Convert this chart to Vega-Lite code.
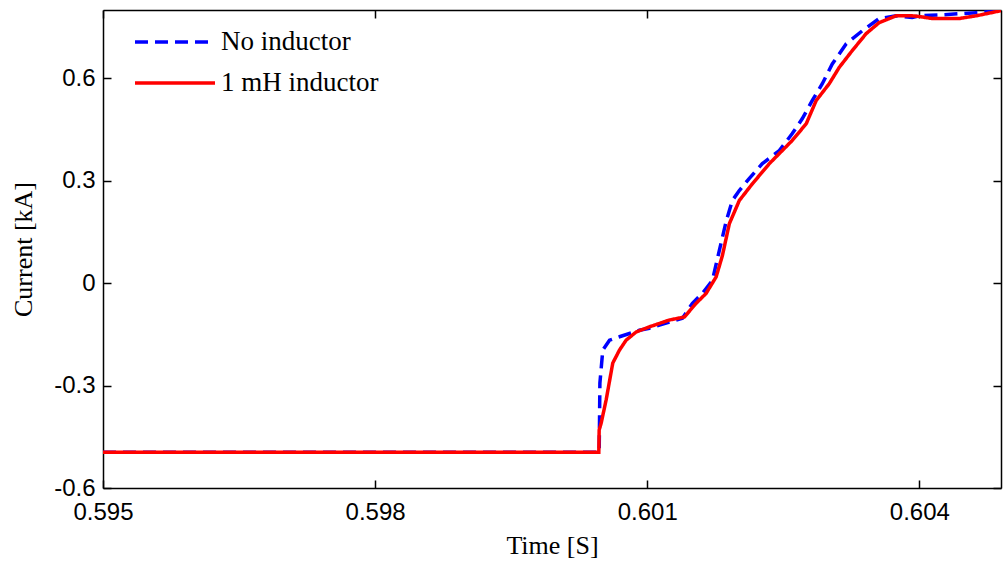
{
  "$schema": "https://vega.github.io/schema/vega-lite/v6.json",
  "width": 898,
  "height": 478,
  "padding": {"left": 103, "top": 10, "right": 2, "bottom": 74},
  "autosize": {"type": "none"},
  "background": "white",
  "config": {
    "view": {"stroke": null},
    "axis": {
      "domainColor": "black", "domainWidth": 1.5, "tickColor": "black", "tickWidth": 1.5, "tickSize": -8,
      "labelFont": "Liberation Sans", "labelFontSize": 24, "labelColor": "black",
      "titleFont": "Liberation Serif", "titleFontSize": 26, "titleFontWeight": "normal", "titleColor": "black",
      "grid": false
    }
  },
  "data": {"values": [
    {"t": 0.595, "v": -0.495, "series": "No inductor"},
    {"t": 0.60047, "v": -0.495, "series": "No inductor"},
    {"t": 0.600474, "v": -0.40, "series": "No inductor"},
    {"t": 0.600478, "v": -0.293, "series": "No inductor"},
    {"t": 0.60051, "v": -0.196, "series": "No inductor"},
    {"t": 0.600584, "v": -0.167, "series": "No inductor"},
    {"t": 0.600694, "v": -0.157, "series": "No inductor"},
    {"t": 0.600914, "v": -0.138, "series": "No inductor"},
    {"t": 0.601024, "v": -0.132, "series": "No inductor"},
    {"t": 0.601134, "v": -0.123, "series": "No inductor"},
    {"t": 0.601388, "v": -0.103, "series": "No inductor"},
    {"t": 0.601498, "v": -0.059, "series": "No inductor"},
    {"t": 0.601608, "v": -0.03, "series": "No inductor"},
    {"t": 0.601718, "v": 0.008, "series": "No inductor"},
    {"t": 0.601795, "v": 0.096, "series": "No inductor"},
    {"t": 0.601872, "v": 0.183, "series": "No inductor"},
    {"t": 0.601938, "v": 0.242, "series": "No inductor"},
    {"t": 0.602015, "v": 0.271, "series": "No inductor"},
    {"t": 0.602126, "v": 0.307, "series": "No inductor"},
    {"t": 0.602269, "v": 0.35, "series": "No inductor"},
    {"t": 0.602456, "v": 0.388, "series": "No inductor"},
    {"t": 0.602599, "v": 0.438, "series": "No inductor"},
    {"t": 0.60271, "v": 0.482, "series": "No inductor"},
    {"t": 0.60282, "v": 0.535, "series": "No inductor"},
    {"t": 0.60293, "v": 0.584, "series": "No inductor"},
    {"t": 0.60304, "v": 0.642, "series": "No inductor"},
    {"t": 0.603194, "v": 0.701, "series": "No inductor"},
    {"t": 0.60337, "v": 0.739, "series": "No inductor"},
    {"t": 0.603557, "v": 0.775, "series": "No inductor"},
    {"t": 0.603744, "v": 0.783, "series": "No inductor"},
    {"t": 0.603921, "v": 0.778, "series": "No inductor"},
    {"t": 0.603998, "v": 0.783, "series": "No inductor"},
    {"t": 0.604251, "v": 0.786, "series": "No inductor"},
    {"t": 0.604626, "v": 0.792, "series": "No inductor"},
    {"t": 0.6049, "v": 0.798, "series": "No inductor"},
    {"t": 0.595, "v": -0.495, "series": "1 mH inductor"},
    {"t": 0.600466, "v": -0.495, "series": "1 mH inductor"},
    {"t": 0.60047, "v": -0.43, "series": "1 mH inductor"},
    {"t": 0.600492, "v": -0.41, "series": "1 mH inductor"},
    {"t": 0.600547, "v": -0.342, "series": "1 mH inductor"},
    {"t": 0.60062, "v": -0.234, "series": "1 mH inductor"},
    {"t": 0.600694, "v": -0.196, "series": "1 mH inductor"},
    {"t": 0.600767, "v": -0.167, "series": "1 mH inductor"},
    {"t": 0.600878, "v": -0.143, "series": "1 mH inductor"},
    {"t": 0.601024, "v": -0.128, "series": "1 mH inductor"},
    {"t": 0.601244, "v": -0.108, "series": "1 mH inductor"},
    {"t": 0.60141, "v": -0.099, "series": "1 mH inductor"},
    {"t": 0.601539, "v": -0.059, "series": "1 mH inductor"},
    {"t": 0.601649, "v": -0.03, "series": "1 mH inductor"},
    {"t": 0.601759, "v": 0.018, "series": "1 mH inductor"},
    {"t": 0.601828, "v": 0.08, "series": "1 mH inductor"},
    {"t": 0.601905, "v": 0.174, "series": "1 mH inductor"},
    {"t": 0.602015, "v": 0.242, "series": "1 mH inductor"},
    {"t": 0.602159, "v": 0.291, "series": "1 mH inductor"},
    {"t": 0.602346, "v": 0.35, "series": "1 mH inductor"},
    {"t": 0.602599, "v": 0.418, "series": "1 mH inductor"},
    {"t": 0.602753, "v": 0.467, "series": "1 mH inductor"},
    {"t": 0.602863, "v": 0.535, "series": "1 mH inductor"},
    {"t": 0.603006, "v": 0.584, "series": "1 mH inductor"},
    {"t": 0.603117, "v": 0.632, "series": "1 mH inductor"},
    {"t": 0.60326, "v": 0.681, "series": "1 mH inductor"},
    {"t": 0.603414, "v": 0.731, "series": "1 mH inductor"},
    {"t": 0.603557, "v": 0.763, "series": "1 mH inductor"},
    {"t": 0.603744, "v": 0.783, "series": "1 mH inductor"},
    {"t": 0.603921, "v": 0.783, "series": "1 mH inductor"},
    {"t": 0.603998, "v": 0.781, "series": "1 mH inductor"},
    {"t": 0.604141, "v": 0.775, "series": "1 mH inductor"},
    {"t": 0.604438, "v": 0.775, "series": "1 mH inductor"},
    {"t": 0.604626, "v": 0.783, "series": "1 mH inductor"},
    {"t": 0.6049, "v": 0.798, "series": "1 mH inductor"}
  ]},
  "resolve": {"axis": {"x": "independent", "y": "independent"}},
  "layer": [
    {
      "transform": [{"filter": "datum.series == 'No inductor'"}],
      "mark": {"type": "line", "strokeWidth": 3.5, "clip": true},
      "encoding": {
        "x": {"field": "t", "type": "quantitative", "scale": {"domain": [0.595, 0.6049], "nice": false, "zero": false},
              "axis": {"orient": "bottom", "values": [0.595, 0.598, 0.601, 0.604], "format": ".3f", "labelPadding": 20, "title": "Time [S]", "titlePadding": 8, "labelFlush": false}},
        "y": {"field": "v", "type": "quantitative", "scale": {"domain": [-0.6, 0.8], "nice": false, "zero": false},
              "axis": {"orient": "left", "values": [-0.6, -0.3, 0, 0.3, 0.6], "labelExpr": "datum.value == 0 ? '0' : (datum.value < 0 ? '-' + format(-datum.value, '.1f') : format(datum.value, '.1f'))", "labelPadding": 16, "title": "Current [kA]", "titlePadding": 17, "labelFlush": false}},
        "color": {"field": "series", "type": "nominal",
                  "scale": {"domain": ["No inductor", "1 mH inductor"], "range": ["#0000ff", "#ff0000"]},
                  "legend": {"orient": "none", "legendX": 30, "legendY": 10, "title": null, "symbolType": "M-1,0H3", "symbolSize": 1600, "symbolStrokeWidth": 3.5, "labelFont": "Liberation Serif", "labelFontSize": 27, "labelColor": "black", "labelOffset": 44, "rowPadding": 6, "padding": 0}},
        "strokeDash": {"field": "series", "type": "nominal",
                  "scale": {"domain": ["No inductor", "1 mH inductor"], "range": [[13, 7], [1, 0]]},
                  "legend": {"orient": "none", "legendX": 30, "legendY": 10, "title": null, "symbolType": "M-1,0H3", "symbolSize": 1600, "symbolStrokeWidth": 3.5, "labelFont": "Liberation Serif", "labelFontSize": 27, "labelColor": "black", "labelOffset": 44, "rowPadding": 6, "padding": 0}}
      }
    },
    {
      "transform": [{"filter": "datum.series == '1 mH inductor'"}],
      "mark": {"type": "line", "strokeWidth": 3.5, "clip": true},
      "encoding": {
        "x": {"field": "t", "type": "quantitative", "axis": null},
        "y": {"field": "v", "type": "quantitative", "axis": null},
        "color": {"field": "series", "type": "nominal"},
        "strokeDash": {"field": "series", "type": "nominal"}
      }
    },
    {
      "mark": {"type": "line", "opacity": 0},
      "encoding": {
        "x": {"field": "t", "type": "quantitative", "axis": {"orient": "top", "values": [0.595, 0.598, 0.601, 0.604], "labels": false, "title": null}},
        "y": {"field": "v", "type": "quantitative", "axis": {"orient": "right", "values": [-0.6, -0.3, 0, 0.3, 0.6], "labels": false, "title": null}}
      }
    }
  ]
}
